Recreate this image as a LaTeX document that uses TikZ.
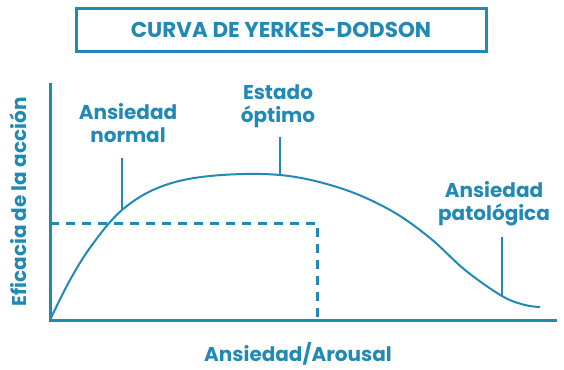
\documentclass[tikz,border=0pt]{standalone}
\usepackage{fontspec}
\setmainfont{Poppins}
\definecolor{ydblue}{RGB}{33,137,180}
\tikzset{
  lbl/.style={text=ydblue,font=\fontsize{20}{23}\selectfont\bfseries,align=center,inner sep=0pt},
  axis/.style={draw=ydblue,line width=3pt},
  guide/.style={draw=ydblue,line width=3pt,dash pattern=on 9pt off 7pt},
  lead/.style={draw=ydblue,line width=1.5pt}
}
\begin{document}
\begin{tikzpicture}[x=1pt,y=-1pt]
  \useasboundingbox (0,0) rectangle (564,369);
  % title box
  \node[draw=ydblue,line width=3pt,minimum width=410pt,minimum height=43pt,text=ydblue,
        font=\fontsize{21.5}{24}\selectfont\bfseries] (title) at (281,30) {CURVA DE YERKES-DODSON};
  % axes
  \coordinate (O) at (50,320);
  \coordinate (Ytop) at (50,83);
  \coordinate (Xend) at (557,320);
  \draw[axis] (Ytop) -- (O) -- (Xend);
  % dashed guide
  \coordinate (G0) at (50,223);
  \coordinate (G1) at (317,223);
  \coordinate (G2) at (317,320);
  \draw[guide] (G0) -- (G1) -- (G2);
  % curve
  \draw[ydblue,line width=2pt] plot[smooth,tension=0.6] coordinates {
    (50,320) (70,280) (92,245) (122,210) (160,187) (210,176) (280,175)
    (340,188) (390,210) (430,238) (465,270) (502,296) (525,305) (540,307)};
  % labels
  \node[lbl] (lnorm) at (128,123) {Ansiedad\\normal};
  \node[lbl] (lopt) at (278,106) {Estado\\óptimo};
  \node[lbl] (lpat) at (494,204) {Ansiedad\\patológica};
  \coordinate (cnorm) at (122,210);
  \coordinate (copt) at (280,175);
  \coordinate (cpat) at (502,296);
  \draw[lead] (cnorm) -- (122,158);
  \draw[lead] (copt) -- (280,137);
  \draw[lead] (cpat) -- (502,237);
  % axis titles
  \node[lbl,rotate=90] (ylab) at (18,202) {Eficacia de la acción};
  \node[lbl] (xlab) at (298,354) {Ansiedad/Arousal};
\end{tikzpicture}
\end{document}
